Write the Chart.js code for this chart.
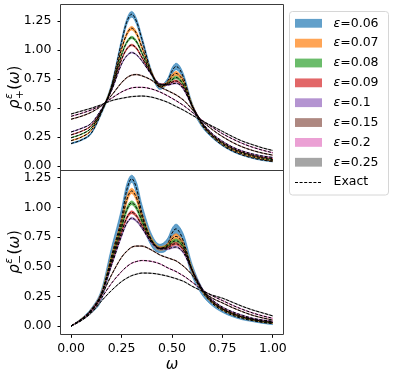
<!DOCTYPE html>
<html><head><meta charset="utf-8">
<script src="https://cdn.jsdelivr.net/npm/chart.js@4/dist/chart.umd.min.js"></script>
<style>html,body{margin:0;padding:0;background:#fff}#wrap{position:relative;width:399px;height:377px}</style>
</head><body><div id="wrap"><canvas id="c" width="399" height="377"></canvas></div>
<script>
// ---------------- data ----------------
const omega = [0, 0.05, 0.1, 0.15, 0.2, 0.25, 0.275, 0.3, 0.325, 0.35, 0.4, 0.44, 0.48, 0.5, 0.52, 0.54, 0.56, 0.6, 0.65, 0.7, 0.75, 0.8, 0.85, 0.9, 0.95, 1.0];
const epsLabels = ['0.06', '0.07', '0.08', '0.09', '0.1', '0.15', '0.2', '0.25'];
const xTicks = [0, 0.25, 0.5, 0.75, 1.0];
const yTicks = [0, 0.25, 0.5, 0.75, 1.0, 1.25];

// rho_+ (top panel), exact smeared curves
const plus006 = [0.195,0.225,0.285,0.46,0.69,1.07,1.24,1.31,1.245,1.10,0.80,0.68,0.74,0.82,0.86,0.83,0.75,0.52,0.35,0.25,0.18,0.13,0.095,0.07,0.052,0.04];
const plus007 = [0.22,0.25,0.31,0.47,0.68,1.01,1.136,1.19,1.142,1.03,0.80,0.69,0.72,0.775,0.80,0.775,0.72,0.52,0.36,0.26,0.19,0.14,0.105,0.08,0.06,0.045];
const plus008 = [0.245,0.275,0.33,0.475,0.67,0.96,1.065,1.11,1.071,0.98,0.79,0.70,0.71,0.745,0.765,0.742,0.69,0.52,0.365,0.265,0.20,0.15,0.115,0.09,0.07,0.055];
const plus009 = [0.27,0.30,0.35,0.48,0.66,0.92,1.008,1.045,1.014,0.94,0.79,0.705,0.705,0.724,0.735,0.715,0.67,0.52,0.37,0.27,0.205,0.155,0.12,0.095,0.077,0.065];
const plus010 = [0.295,0.325,0.37,0.49,0.65,0.88,0.95,0.98,0.959,0.91,0.785,0.71,0.70,0.71,0.715,0.70,0.655,0.52,0.375,0.28,0.215,0.165,0.13,0.105,0.087,0.075];
const plus015 = [0.405,0.43,0.465,0.52,0.61,0.72,0.762,0.785,0.79,0.78,0.74,0.685,0.65,0.633,0.615,0.592,0.565,0.49,0.39,0.315,0.255,0.205,0.165,0.135,0.112,0.095];
const plus020 = [0.43,0.455,0.485,0.525,0.585,0.64,0.66,0.675,0.68,0.68,0.665,0.64,0.605,0.585,0.565,0.543,0.52,0.465,0.395,0.335,0.28,0.235,0.195,0.163,0.137,0.115];
const plus025 = [0.45,0.475,0.50,0.53,0.565,0.585,0.593,0.60,0.603,0.605,0.595,0.575,0.55,0.533,0.515,0.498,0.48,0.44,0.39,0.345,0.30,0.255,0.215,0.185,0.157,0.135];

// band half-widths, top panel
const errPlus006 = [0.004,0.005,0.007,0.012,0.02,0.025,0.025,0.025,0.025,0.025,0.02,0.018,0.022,0.028,0.028,0.028,0.03,0.025,0.015,0.008,0.006,0.005,0.004,0.004,0.004,0.004];
const errPlus007 = [0.003,0.003,0.004,0.007,0.012,0.015,0.015,0.015,0.015,0.015,0.012,0.011,0.013,0.017,0.017,0.017,0.018,0.015,0.009,0.005,0.004,0.003,0.003,0.003,0.003,0.003];
const errPlus008 = [0.002,0.002,0.003,0.005,0.008,0.010,0.010,0.010,0.010,0.010,0.008,0.007,0.009,0.011,0.011,0.011,0.012,0.010,0.006,0.004,0.003,0.002,0.002,0.002,0.002,0.002];
const errPlus009 = [0.002,0.002,0.002,0.004,0.006,0.007,0.007,0.007,0.007,0.007,0.006,0.005,0.006,0.008,0.008,0.008,0.008,0.007,0.004,0.003,0.002,0.002,0.002,0.002,0.002,0.002];
const errPlus010 = [0.002,0.002,0.002,0.003,0.004,0.005,0.005,0.005,0.005,0.005,0.004,0.004,0.004,0.005,0.005,0.005,0.005,0.004,0.003,0.002,0.002,0.002,0.002,0.002,0.002,0.002];
const errPlus015 = [0.002,0.002,0.002,0.002,0.003,0.003,0.003,0.003,0.003,0.003,0.003,0.002,0.002,0.003,0.003,0.003,0.003,0.003,0.002,0.002,0.002,0.002,0.002,0.002,0.002,0.002];
const errPlus020 = [0.002,0.002,0.002,0.002,0.002,0.002,0.002,0.002,0.002,0.002,0.002,0.002,0.002,0.002,0.002,0.002,0.002,0.002,0.002,0.002,0.002,0.002,0.002,0.002,0.002,0.002];
const errPlus025 = [0.002,0.002,0.002,0.002,0.002,0.002,0.002,0.002,0.002,0.002,0.002,0.002,0.002,0.002,0.002,0.002,0.002,0.002,0.002,0.002,0.002,0.002,0.002,0.002,0.002,0.002];

// rho_- (bottom panel), exact smeared curves
const minus006 = [0,0.055,0.13,0.26,0.59,0.91,1.143,1.243,1.158,0.96,0.72,0.655,0.70,0.784,0.82,0.784,0.70,0.47,0.29,0.19,0.13,0.09,0.062,0.045,0.03,0.02];
const minus007 = [0,0.055,0.13,0.265,0.57,0.87,1.06,1.14,1.077,0.93,0.72,0.655,0.68,0.734,0.757,0.731,0.67,0.47,0.30,0.20,0.14,0.10,0.07,0.05,0.035,0.025];
const minus008 = [0,0.055,0.135,0.27,0.55,0.83,0.977,1.04,0.995,0.89,0.715,0.655,0.67,0.705,0.72,0.70,0.65,0.47,0.305,0.205,0.145,0.105,0.075,0.055,0.04,0.03];
const minus009 = [0,0.055,0.135,0.27,0.53,0.79,0.91,0.96,0.927,0.85,0.71,0.655,0.66,0.685,0.695,0.675,0.63,0.47,0.31,0.21,0.15,0.11,0.08,0.06,0.045,0.035];
const minus010 = [0,0.055,0.135,0.27,0.51,0.76,0.865,0.91,0.886,0.83,0.70,0.65,0.65,0.662,0.667,0.65,0.61,0.47,0.315,0.22,0.16,0.12,0.09,0.065,0.05,0.04];
const minus015 = [0,0.05,0.125,0.255,0.43,0.58,0.63,0.665,0.675,0.675,0.64,0.60,0.575,0.563,0.55,0.527,0.50,0.43,0.30,0.235,0.195,0.155,0.12,0.09,0.068,0.05];
const minus020 = [0,0.048,0.12,0.235,0.36,0.46,0.50,0.53,0.545,0.553,0.545,0.525,0.49,0.475,0.46,0.44,0.42,0.37,0.305,0.255,0.215,0.175,0.14,0.11,0.085,0.065];
const minus025 = [0,0.045,0.11,0.21,0.30,0.375,0.403,0.425,0.438,0.447,0.445,0.435,0.42,0.41,0.40,0.388,0.375,0.335,0.295,0.26,0.235,0.20,0.165,0.135,0.11,0.085];

// band half-widths, bottom panel
const errMinus006 = [0.001,0.008,0.02,0.045,0.07,0.08,0.05,0.03,0.05,0.07,0.05,0.035,0.045,0.04,0.04,0.045,0.06,0.05,0.03,0.02,0.015,0.012,0.01,0.008,0.008,0.008];
const errMinus007 = [0.001,0.005,0.01,0.02,0.03,0.035,0.028,0.022,0.026,0.03,0.02,0.015,0.02,0.022,0.022,0.022,0.025,0.02,0.012,0.008,0.006,0.005,0.004,0.004,0.004,0.004];
const errMinus008 = [0.001,0.003,0.007,0.012,0.02,0.022,0.019,0.016,0.018,0.02,0.014,0.01,0.013,0.015,0.015,0.015,0.016,0.013,0.008,0.005,0.004,0.003,0.003,0.003,0.003,0.003];
const errMinus009 = [0.001,0.002,0.005,0.008,0.013,0.015,0.013,0.012,0.012,0.013,0.009,0.007,0.009,0.011,0.011,0.011,0.011,0.009,0.005,0.004,0.003,0.002,0.002,0.002,0.002,0.002];
const errMinus010 = [0.001,0.002,0.003,0.005,0.008,0.009,0.008,0.008,0.008,0.008,0.006,0.005,0.006,0.007,0.007,0.007,0.007,0.006,0.004,0.003,0.002,0.002,0.002,0.002,0.002,0.002];
const errMinus015 = [0.001,0.002,0.002,0.003,0.003,0.003,0.003,0.003,0.003,0.003,0.003,0.002,0.002,0.002,0.002,0.002,0.002,0.002,0.002,0.002,0.002,0.002,0.002,0.002,0.002,0.002];
const errMinus020 = [0.001,0.002,0.002,0.002,0.002,0.002,0.002,0.002,0.002,0.002,0.002,0.002,0.002,0.002,0.002,0.002,0.002,0.002,0.002,0.002,0.002,0.002,0.002,0.002,0.002,0.002];
const errMinus025 = [0.001,0.002,0.002,0.002,0.002,0.002,0.002,0.002,0.002,0.002,0.002,0.002,0.002,0.002,0.002,0.002,0.002,0.002,0.002,0.002,0.002,0.002,0.002,0.002,0.002,0.002];

const rhoPlus = [plus006, plus007, plus008, plus009, plus010, plus015, plus020, plus025];
const errPlus = [errPlus006, errPlus007, errPlus008, errPlus009, errPlus010, errPlus015, errPlus020, errPlus025];
const rhoMinus = [minus006, minus007, minus008, minus009, minus010, minus015, minus020, minus025];
const errMinus = [errMinus006, errMinus007, errMinus008, errMinus009, errMinus010, errMinus015, errMinus020, errMinus025];

// ---------------- style ----------------
const colors = ['#1f77b4', '#ff7f0e', '#2ca02c', '#d62728', '#9467bd', '#8c564b', '#e377c2', '#7f7f7f'];
const FONT = '"DejaVu Sans", "Liberation Sans", sans-serif';
function rgba(hex, a) {
  const n = parseInt(hex.slice(1), 16);
  return `rgba(${(n >> 16) & 255},${(n >> 8) & 255},${n & 255},${a})`;
}
Chart.defaults.font.family = FONT;
Chart.defaults.color = '#000';

const datasets = [];
function addPanel(series, errs, axisId, tag) {
  series.forEach((vals, i) => {
    const c = rgba(colors[i], 0.7);
    datasets.push({
      label: tag + ' band low ε=' + epsLabels[i],
      data: vals.map((v, k) => ({x: omega[k], y: v - errs[i][k]})),
      yAxisID: axisId, borderColor: c, borderWidth: 0.8, backgroundColor: c,
      fill: false, pointRadius: 0, order: 20 - i, cubicInterpolationMode: 'monotone'
    });
    datasets.push({
      label: tag + ' ε=' + epsLabels[i],
      data: vals.map((v, k) => ({x: omega[k], y: v + errs[i][k]})),
      yAxisID: axisId, borderColor: c, borderWidth: 0.8, backgroundColor: c,
      fill: '-1', pointRadius: 0, order: 20 - i, cubicInterpolationMode: 'monotone'
    });
  });
  series.forEach((vals, i) => {
    datasets.push({
      label: tag + ' Exact ε=' + epsLabels[i],
      data: vals.map((v, k) => ({x: omega[k], y: v})),
      yAxisID: axisId, borderColor: '#000', borderWidth: 1, borderDash: [3, 1.6],
      fill: false, pointRadius: 0, order: 0, cubicInterpolationMode: 'monotone'
    });
  });
}
addPanel(rhoPlus, errPlus, 'yTop', 'ρ+');
addPanel(rhoMinus, errMinus, 'yBot', 'ρ−');

function yScale(min, max) {
  return {
    type: 'linear', position: 'left', stack: 'panels', stackWeight: 1, min, max,
    afterBuildTicks: s => { s.ticks = yTicks.map(v => ({value: v})); },
    afterFit: s => { s.width = 61; s.paddingTop = 0; s.paddingBottom = 0; },
    ticks: {callback: v => Number(v).toFixed(2), font: {size: 12.5}, color: '#000', padding: 6, autoSkip: false},
    grid: {drawOnChartArea: false, drawTicks: true, tickLength: 3.5, color: '#000', lineWidth: 1},
    border: {display: false}
  };
}

function drawYTitle(ctx, cx, cy, sign) {
  ctx.save();
  ctx.translate(cx, cy);
  ctx.rotate(-Math.PI / 2);
  ctx.fillStyle = '#000';
  ctx.textBaseline = 'alphabetic';
  ctx.textAlign = 'left';
  const big = 'italic 15px ' + FONT, bigUp = '15px ' + FONT;
  const sm = 'italic 10.5px ' + FONT, smUp = '10.5px ' + FONT;
  ctx.font = big; const wRho = ctx.measureText('ρ').width;
  ctx.font = sm; const wEps = ctx.measureText('ε').width;
  ctx.font = smUp; const wSign = ctx.measureText(sign).width;
  ctx.font = bigUp; const wP = ctx.measureText('(').width;
  ctx.font = big; const wOm = ctx.measureText('ω').width;
  const wScript = Math.max(wEps, wSign) + 1;
  const total = wRho + wScript + 2 * wP + wOm;
  let x = -total / 2;
  const by = 5;
  ctx.font = big; ctx.fillText('ρ', x, by); x += wRho;
  ctx.font = sm; ctx.fillText('ε', x + 0.5, by - 7);
  ctx.font = smUp; ctx.fillText(sign, x + 0.5, by + 3.5);
  x += wScript;
  ctx.font = bigUp; ctx.fillText('(', x, by); x += wP;
  ctx.font = big; ctx.fillText('ω', x, by); x += wOm;
  ctx.font = bigUp; ctx.fillText(')', x, by);
  ctx.restore();
}

const decorPlugin = {
  id: 'decor',
  afterDatasetsDraw(chart) {
    const ctx = chart.ctx, a = chart.chartArea;
    const sT = chart.scales.yTop, sB = chart.scales.yBot;
    const px = v => Math.round(v) + 0.5;
    const l = px(a.left - 1), r = px(a.right);
    const t = px(sT.top - 1), m = px(sT.bottom), b = px(sB.bottom);
    ctx.save();
    ctx.strokeStyle = '#3c3c3c';
    ctx.lineWidth = 1;
    ctx.beginPath();
    ctx.rect(l, t, r - l, b - t);
    ctx.moveTo(l, m); ctx.lineTo(r, m);
    ctx.stroke();
    ctx.restore();
  },
  afterDraw(chart) {
    const ctx = chart.ctx;
    const sT = chart.scales.yTop, sB = chart.scales.yBot;
    drawYTitle(ctx, 14, (sT.top + sT.bottom) / 2, '+');
    drawYTitle(ctx, 14, (sB.top + sB.bottom) / 2, '−');

    // legend
    ctx.save();
    const bx = 289.5, byy = 11.5, bw = 99, bh = 183.5, rr = 3;
    ctx.beginPath();
    ctx.moveTo(bx + rr, byy);
    ctx.arcTo(bx + bw, byy, bx + bw, byy + bh, rr);
    ctx.arcTo(bx + bw, byy + bh, bx, byy + bh, rr);
    ctx.arcTo(bx, byy + bh, bx, byy, rr);
    ctx.arcTo(bx, byy, bx + bw, byy, rr);
    ctx.closePath();
    ctx.fillStyle = 'rgba(255,255,255,0.8)';
    ctx.fill();
    ctx.strokeStyle = '#d6d6d6';
    ctx.lineWidth = 1;
    ctx.stroke();
    const step = 19.85, y0 = 23.3;
    ctx.textBaseline = 'middle';
    ctx.textAlign = 'left';
    epsLabels.forEach((lab, i) => {
      const cy = y0 + i * step;
      ctx.fillStyle = rgba(colors[i], 0.7);
      ctx.fillRect(295, cy - 4.4, 27, 8.8);
      ctx.fillStyle = '#000';
      ctx.font = 'italic 12.5px ' + FONT;
      ctx.fillText('ε', 333.5, cy);
      const w = ctx.measureText('ε').width;
      ctx.font = '12.5px ' + FONT;
      ctx.fillText('=' + lab, 333.5 + w, cy);
    });
    const ey = y0 + 8 * step;
    ctx.strokeStyle = '#000';
    ctx.lineWidth = 1;
    ctx.setLineDash([3, 1.6]);
    ctx.beginPath();
    ctx.moveTo(295, Math.round(ey) + 0.5);
    ctx.lineTo(322, Math.round(ey) + 0.5);
    ctx.stroke();
    ctx.setLineDash([]);
    ctx.fillStyle = '#000';
    ctx.font = '12.5px ' + FONT;
    ctx.fillText('Exact', 333.5, ey);
    ctx.restore();
  }
};

new Chart(document.getElementById('c'), {
  type: 'line',
  data: {datasets},
  options: {
    responsive: false, animation: false, devicePixelRatio: 1, events: [],
    layout: {padding: {top: 5, right: 116, bottom: 0, left: 0}},
    plugins: {legend: {display: false}, tooltip: {enabled: false}},
    scales: {
      x: {
        type: 'linear', position: 'bottom', min: -0.05, max: 1.05,
        afterBuildTicks: s => { s.ticks = xTicks.map(v => ({value: v})); },
        afterFit: s => { s.height = 42.7; s.paddingLeft = 0; s.paddingRight = 0; },
        ticks: {callback: v => Number(v).toFixed(2), font: {size: 12.5}, color: '#000', padding: 3, maxRotation: 0, autoSkip: false},
        grid: {drawOnChartArea: false, drawTicks: true, tickLength: 3.5, color: '#000'},
        border: {display: false},
        title: {display: true, text: 'ω', font: {size: 15, style: 'italic'}, color: '#000', padding: {top: 0, bottom: 3}}
      },
      // stacked vertical axes: the one declared last is placed on top
      yBot: yScale(-0.07, 1.32),
      yTop: yScale(-0.03, 1.39)
    }
  },
  plugins: [decorPlugin]
});
</script>
</body></html>
